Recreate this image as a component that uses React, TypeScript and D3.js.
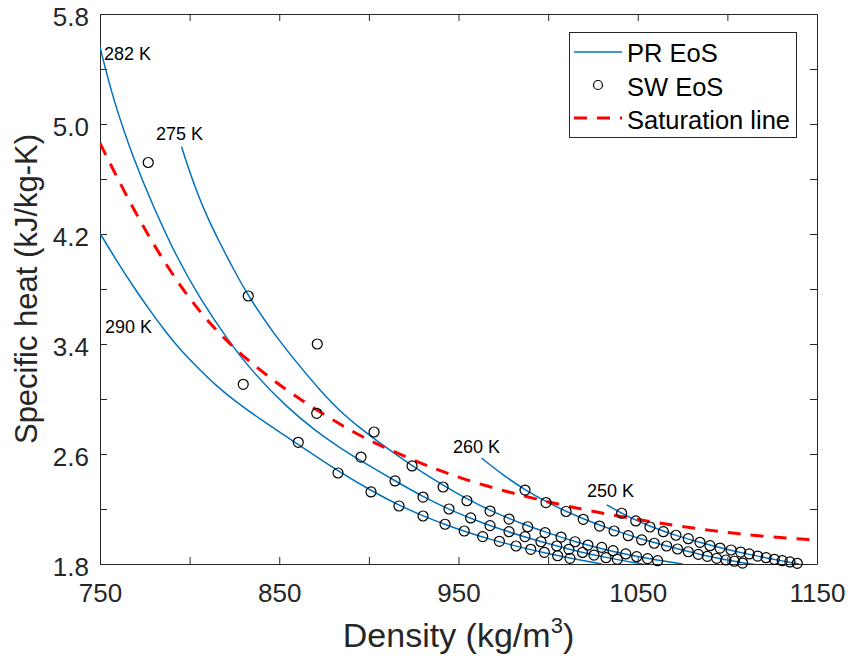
import React, { useEffect, useRef } from "react";
import * as d3 from "d3";

type Pt = [number, number];

const width = 854;
const height = 664;
const margin = { top: 14, right: 37, bottom: 100, left: 100 };

const font = "'Liberation Sans', Arial, Helvetica, sans-serif";
const axisColor = "#262626";
const prColor = "#0072BD";

// PR EoS isotherms, [density kg/m3, cp kJ/kg-K]
const pr290: Pt[] = [
  [750, 4.205], [760, 3.99], [768.6, 3.817], [778, 3.64], [787.2, 3.478], [796, 3.34],
  [805.8, 3.211], [815, 3.095], [824.4, 2.993], [843, 2.82], [860.5, 2.67], [882.8, 2.475],
  [901, 2.335], [917, 2.225], [931, 2.145], [943, 2.085], [955, 2.03], [970, 1.97],
  [985, 1.92], [1000, 1.875], [1015, 1.835], [1030, 1.8],
];
const pr282: Pt[] = [
  [750, 5.56], [757.4, 5.175], [768.6, 4.75], [779.7, 4.4], [792.8, 4.03], [805.8, 3.73],
  [820.7, 3.44], [835.5, 3.19], [854.2, 2.94], [870, 2.77], [883.9, 2.645], [895, 2.555],
  [914.6, 2.405], [930, 2.29], [945, 2.195], [960, 2.115], [975, 2.045], [990, 1.985],
  [1005, 1.93], [1020, 1.88], [1035, 1.84], [1050, 1.805], [1055, 1.795],
];
const pr275: Pt[] = [
  [795.5, 4.835], [800, 4.65], [805.8, 4.447], [811, 4.29], [817, 4.132], [824.4, 3.945],
  [832.7, 3.749], [846.7, 3.478], [861.6, 3.235], [873, 3.06], [883.9, 2.91], [895, 2.79],
  [907, 2.67], [924, 2.515], [941, 2.375], [955, 2.27], [970, 2.175], [985, 2.095],
  [1000, 2.025], [1015, 1.962], [1030, 1.91], [1045, 1.865], [1060, 1.83], [1075, 1.8],
];
const pr260: Pt[] = [
  [962.9, 2.57], [975, 2.445], [987, 2.34], [1000, 2.245], [1012, 2.17], [1025, 2.1],
  [1040, 2.03], [1055, 1.97], [1070, 1.918], [1085, 1.868], [1100, 1.828], [1110, 1.805],
  [1116, 1.795],
];
const pr250: Pt[] = [
  [1032.7, 2.23], [1045, 2.14], [1058, 2.068], [1070, 2.012], [1085, 1.955], [1100, 1.905],
  [1115, 1.862], [1130, 1.824], [1140, 1.8],
];

// SW EoS points
const sw290: Pt[] = [
  [860.6, 2.685], [882.8, 2.462], [901.2, 2.324], [916.8, 2.222], [930.2, 2.149],
  [942.5, 2.089], [953.2, 2.04], [963.5, 1.999], [972.8, 1.965], [982.1, 1.931],
  [990.3, 1.907], [997.9, 1.885], [1005.3, 1.86], [1012.2, 1.841],
];
const sw282: Pt[] = [
  [870.9, 2.896], [895.6, 2.578], [914.6, 2.404], [930.2, 2.287], [944.7, 2.2],
  [956.8, 2.135], [967.6, 2.079], [978.2, 2.035], [987.1, 1.999], [996.0, 1.962],
  [1004.8, 1.931], [1011.6, 1.907], [1019.2, 1.884], [1025.6, 1.865], [1032.3, 1.846],
  [1038.6, 1.834],
];
const sw275: Pt[] = [
  [832.7, 3.749], [902.9, 2.76], [924.1, 2.513], [941.4, 2.36], [954.7, 2.26],
  [967.6, 2.185], [978.2, 2.127], [988.6, 2.071], [998.3, 2.028], [1007.2, 1.996],
  [1015.0, 1.962], [1022.2, 1.938], [1029.9, 1.921], [1036.2, 1.897], [1043.3, 1.873],
  [1049.4, 1.853], [1055.5, 1.839], [1061.1, 1.824],
];
const sw260: Pt[] = [
  [987.1, 2.338], [998.8, 2.247], [1010.0, 2.182], [1019.6, 2.125], [1028.7, 2.076],
  [1036.8, 2.04], [1044.7, 2.006], [1052.2, 1.975], [1059.2, 1.951], [1066.1, 1.931],
  [1072.2, 1.909], [1078.2, 1.889], [1083.8, 1.87], [1088.8, 1.856], [1094.0, 1.841],
  [1099.2, 1.829], [1103.9, 1.82], [1108.5, 1.807],
];
const sw250: Pt[] = [
  [1041.0, 2.169], [1048.9, 2.113], [1056.8, 2.069], [1064.3, 2.035], [1071.3, 2.009],
  [1078.2, 1.984], [1084.7, 1.958], [1090.3, 1.933], [1095.9, 1.916], [1102.1, 1.902],
  [1107.4, 1.887], [1112.2, 1.873], [1116.9, 1.858], [1121.6, 1.846], [1126.2, 1.834],
  [1130.6, 1.824], [1134.9, 1.815], [1139.0, 1.805],
];
// SW points close to the saturation line, off the PR curves
const swNearSat: Pt[] = [[776.9, 4.72], [829.9, 3.107], [871.2, 3.4]];

// Saturation line
const saturation: Pt[] = [
  [750, 4.86], [768.6, 4.375], [787.2, 3.962], [805.8, 3.623], [824.4, 3.37], [843, 3.17],
  [861.6, 2.995], [883.9, 2.815], [898.8, 2.705], [928.5, 2.532], [955, 2.405],
  [984.3, 2.3], [1010, 2.22], [1040, 2.145], [1070, 2.08], [1096, 2.035], [1120, 2.0],
  [1148, 1.975],
];

// Isotherm labels and where they sit (data units)
const tempLabels = ["282 K", "275 K", "290 K", "260 K", "250 K"];
const tempLabelDensity = [752.2, 781.2, 752.8, 946.9, 1021.7];
const tempLabelCp = [5.465, 4.884, 3.48, 2.607, 2.287];

// Ticks
const xTicks = [750, 800, 850, 900, 950, 1000, 1050, 1100, 1150];
const xTickLabels = ["750", "", "850", "", "950", "", "1050", "", "1150"];
const yTicks = [1.8, 2.2, 2.6, 3.0, 3.4, 3.8, 4.2, 4.6, 5.0, 5.4, 5.8];
const yTickLabels = ["1.8", "", "2.6", "", "3.4", "", "4.2", "", "5.0", "", "5.8"];

const drawChart = (node: SVGSVGElement) => {
  const svg = d3.select(node);
  svg.selectAll("*").remove();

  const x = d3.scaleLinear().domain([750, 1150]).range([margin.left, width - margin.right]);
  const y = d3.scaleLinear().domain([1.8, 5.8]).range([height - margin.bottom, margin.top]);

  svg.append("rect").attr("width", width).attr("height", height).attr("fill", "white");

  svg.append("defs").append("clipPath").attr("id", "plot-clip")
    .append("rect")
    .attr("x", margin.left).attr("y", margin.top)
    .attr("width", width - margin.left - margin.right)
    .attr("height", height - margin.top - margin.bottom);

  // Axes: MATLAB style box with ticks pointing inside on all four sides
  const styleAxis = (g: d3.Selection<SVGGElement, unknown, null, undefined>) => {
    g.attr("font-family", font).attr("font-size", 26).style("color", axisColor);
    g.selectAll("text").attr("fill", axisColor);
  };

  svg.append("g")
    .attr("transform", `translate(0,${height - margin.bottom})`)
    .call(d3.axisBottom(x).tickValues(xTicks).tickSizeInner(-7).tickSizeOuter(0)
      .tickPadding(20).tickFormat((_, i) => xTickLabels[i]))
    .call(styleAxis);

  svg.append("g")
    .attr("transform", `translate(0,${margin.top})`)
    .call(d3.axisTop(x).tickValues(xTicks).tickSizeInner(-7).tickSizeOuter(0).tickFormat(() => ""))
    .call(styleAxis);

  const left = svg.append("g")
    .attr("transform", `translate(${margin.left},0)`)
    .call(d3.axisLeft(y).tickValues(yTicks).tickSizeInner(-7).tickSizeOuter(0)
      .tickPadding(11).tickFormat((_, i) => yTickLabels[i]))
    .call(styleAxis);
  left.selectAll("text").attr("dy", "0.46em");

  svg.append("g")
    .attr("transform", `translate(${width - margin.right},0)`)
    .call(d3.axisRight(y).tickValues(yTicks).tickSizeInner(-7).tickSizeOuter(0).tickFormat(() => ""))
    .call(styleAxis);

  // Axis titles
  const xTitle = svg.append("text")
    .attr("x", (margin.left + width - margin.right) / 2)
    .attr("y", 647)
    .attr("text-anchor", "middle")
    .attr("font-family", font)
    .attr("font-size", 34)
    .attr("fill", axisColor);
  xTitle.append("tspan").text("Density (kg/m");
  xTitle.append("tspan").attr("font-size", 22).attr("dy", -14).text("3");
  xTitle.append("tspan").attr("dy", 14).text(")");

  svg.append("text")
    .attr("transform", `translate(37,${(margin.top + height - margin.bottom) / 2}) rotate(-90)`)
    .attr("text-anchor", "middle")
    .attr("font-family", font)
    .attr("font-size", 31)
    .attr("fill", axisColor)
    .text("Specific heat (kJ/kg-K)");

  // basis spline smooths out small reading errors in the hand-read points
  const line = d3.line<Pt>()
    .x(d => x(d[0]))
    .y(d => y(d[1]))
    .curve(d3.curveBasis);

  // PR EoS curves
  const plot = svg.append("g").attr("clip-path", "url(#plot-clip)");
  [pr290, pr282, pr275, pr260, pr250].forEach(curve => {
    plot.append("path")
      .datum(curve)
      .attr("d", line)
      .attr("fill", "none")
      .attr("stroke", prColor)
      .attr("stroke-width", 1.5);
  });

  // SW EoS markers
  const swPoints = [...sw290, ...sw282, ...sw275, ...sw260, ...sw250, ...swNearSat];
  svg.append("g")
    .selectAll("circle")
    .data(swPoints)
    .enter().append("circle")
    .attr("cx", d => x(d[0]))
    .attr("cy", d => y(d[1]))
    .attr("r", 5)
    .attr("fill", "none")
    .attr("stroke", "black")
    .attr("stroke-width", 1.2);

  // Saturation line
  plot.append("path")
    .datum(saturation)
    .attr("d", line)
    .attr("fill", "none")
    .attr("stroke", "#FF0000")
    .attr("stroke-width", 3)
    .attr("stroke-dasharray", "13,10");

  // Isotherm labels
  svg.append("g")
    .selectAll("text")
    .data(tempLabels)
    .enter().append("text")
    .attr("x", (_, i) => x(tempLabelDensity[i]))
    .attr("y", (_, i) => y(tempLabelCp[i]))
    .attr("font-family", font)
    .attr("font-size", 18)
    .attr("fill", "black")
    .text(d => d);

  // Legend
  const legend = svg.append("g").attr("font-family", font).attr("font-size", 25.5);
  legend.append("rect")
    .attr("x", 569.5).attr("y", 32.5).attr("width", 227).attr("height", 105)
    .attr("fill", "white").attr("stroke", axisColor).attr("stroke-width", 1);
  legend.append("line")
    .attr("x1", 574).attr("x2", 622).attr("y1", 52).attr("y2", 52)
    .attr("stroke", prColor).attr("stroke-width", 1.5);
  legend.append("circle")
    .attr("cx", 598).attr("cy", 85).attr("r", 4.5)
    .attr("fill", "none").attr("stroke", "black").attr("stroke-width", 1.2);
  legend.append("line")
    .attr("x1", 574).attr("x2", 622).attr("y1", 118).attr("y2", 118)
    .attr("stroke", "#FF0000").attr("stroke-width", 3).attr("stroke-dasharray", "13,10");
  const entries = ["PR EoS", "SW EoS", "Saturation line"];
  const baselines = [62, 96, 129];
  entries.forEach((t, i) => {
    legend.append("text").attr("x", 627).attr("y", baselines[i]).attr("fill", "black").text(t);
  });
};

export default function App() {
  const ref = useRef<SVGSVGElement | null>(null);

  useEffect(() => {
    if (ref.current) drawChart(ref.current);
  }, []);

  return (
    <svg
      ref={ref}
      width={width}
      height={height}
      style={{ position: "absolute", left: 0, top: 0, display: "block" }}
    />
  );
}
